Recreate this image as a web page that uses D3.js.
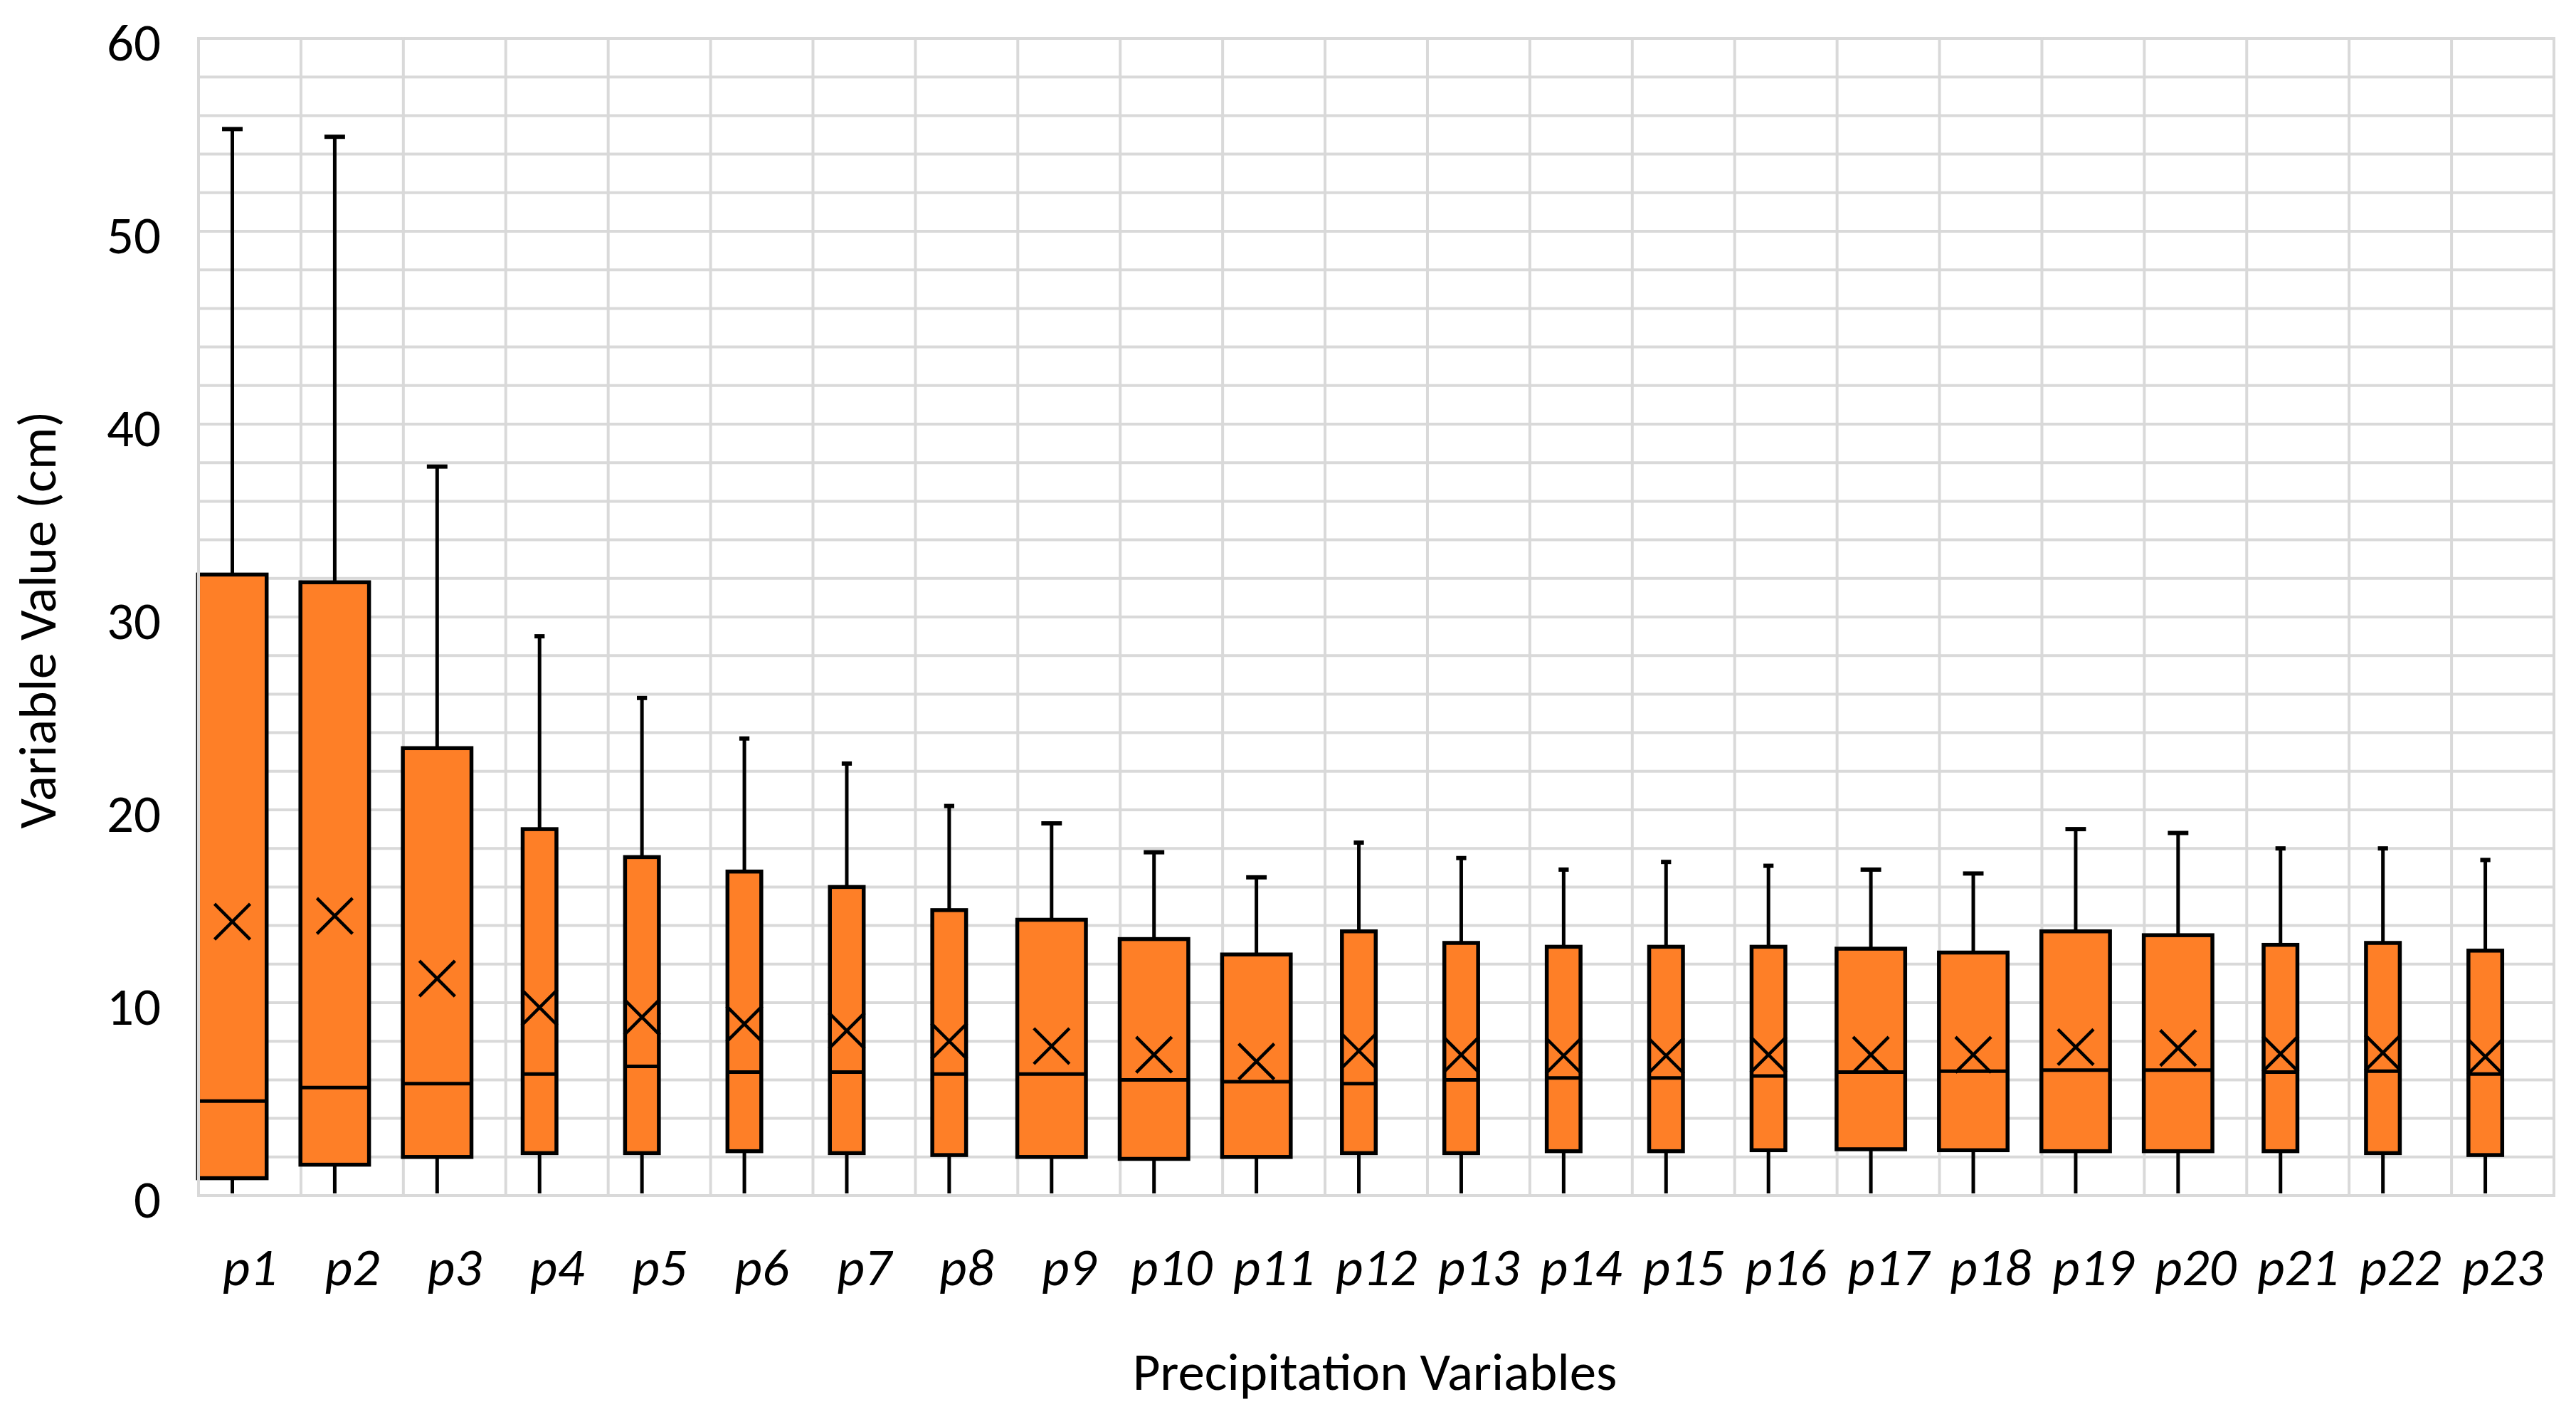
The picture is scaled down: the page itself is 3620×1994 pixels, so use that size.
<!DOCTYPE html>
<html>
<head>
<meta charset="utf-8">
<script src="https://cdn.jsdelivr.net/npm/d3@7"></script>
<style>
  body { margin: 0; background: #fff; }
  text { font-family: Calibri, Carlito, Lato, sans-serif; fill: #000; }
</style>
</head>
<body>
<svg id="chart" width="3620" height="1994"></svg>
<script>
// values (cm)
const categories = ["p1","p2","p3","p4","p5","p6","p7","p8","p9","p10","p11","p12",
  "p13","p14","p15","p16","p17","p18","p19","p20","p21","p22","p23"];
const whiskerMax = [55.3, 54.9, 37.8, 29.0, 25.8, 23.7, 22.4, 20.2, 19.3, 17.8, 16.5, 18.3,
  17.5, 16.9, 17.3, 17.1, 16.9, 16.7, 19.0, 18.8, 18.0, 18.0, 17.4];
const q3 = [32.2, 31.8, 23.2, 19.0, 17.55, 16.8, 16.0, 14.8, 14.3, 13.3, 12.5, 13.7,
  13.1, 12.9, 12.9, 12.9, 12.8, 12.6, 13.7, 13.5, 13.0, 13.1, 12.7];
const median = [4.9, 5.6, 5.8, 6.3, 6.7, 6.4, 6.4, 6.3, 6.3, 6.0, 5.9, 5.8,
  6.0, 6.1, 6.1, 6.2, 6.4, 6.45, 6.5, 6.5, 6.4, 6.45, 6.3];
const q1 = [0.9, 1.6, 2.0, 2.2, 2.2, 2.3, 2.2, 2.1, 2.0, 1.9, 2.0, 2.2,
  2.2, 2.3, 2.3, 2.35, 2.4, 2.35, 2.3, 2.3, 2.3, 2.2, 2.1];
const whiskerMin = [0, 0, 0, 0, 0, 0, 0, 0, 0, 0, 0, 0,
  0, 0, 0, 0, 0, 0, 0, 0, 0, 0, 0];
const mean = [14.2, 14.5, 11.25, 9.75, 9.25, 8.9, 8.55, 8.0, 7.75, 7.3, 6.95, 7.5,
  7.3, 7.25, 7.25, 7.3, 7.3, 7.3, 7.7, 7.65, 7.35, 7.4, 7.2];
const yTicks = [0, 10, 20, 30, 40, 50, 60];

// the boxes in the picture come in two widths
const wideBoxes = new Set(["p1","p2","p3","p9","p10","p11","p17","p18","p19","p20"]);

const rows = categories.map((c, i) => ({
  name: c, max: whiskerMax[i], q3: q3[i], med: median[i], q1: q1[i], min: whiskerMin[i], mean: mean[i]
}));

const svg = d3.select("#chart");
svg.append("rect").attr("width", 3620).attr("height", 1994).attr("fill", "#fff");

const x = d3.scaleBand().domain(categories).range([279, 3589]).padding(0);
const y = d3.scaleLinear().domain([0, 60]).range([1680, 54]);
const bw = x.bandwidth();
const gridColor = "#d9d9d9";

// grid
const grid = svg.append("g");
grid.selectAll(".hgrid")
  .data(d3.range(0, 61, 2))
  .join("line")
  .attr("x1", x.range()[0]).attr("x2", x.range()[1])
  .attr("y1", d => y(d)).attr("y2", d => y(d))
  .attr("stroke", gridColor).attr("stroke-width", 4);
grid.selectAll(".vgrid")
  .data(categories.slice(1).map(c => x(c)).concat([x.range()[1]]))
  .join("line")
  .attr("x1", d => d).attr("x2", d => d)
  .attr("y1", y(60) - 2).attr("y2", y(0) + 2)
  .attr("stroke", gridColor).attr("stroke-width", 4);

// boxes
const cx = d => x(d.name) + bw * 0.33;
const boxW = d => (wideBoxes.has(d.name) ? 0.67 : 0.33) * bw;

const box = svg.append("g").selectAll("g")
  .data(rows)
  .join("g");

// upper whisker + cap
box.append("line")
  .attr("x1", cx).attr("x2", cx)
  .attr("y1", d => y(d.q3)).attr("y2", d => y(d.max))
  .attr("stroke", "#000").attr("stroke-width", 5);
box.append("line")
  .attr("x1", d => cx(d) - boxW(d) * 0.15).attr("x2", d => cx(d) + boxW(d) * 0.15)
  .attr("y1", d => y(d.max)).attr("y2", d => y(d.max))
  .attr("stroke", "#000").attr("stroke-width", 6);
// lower whisker
box.append("line")
  .attr("x1", cx).attr("x2", cx)
  .attr("y1", d => y(d.q1)).attr("y2", d => y(d.min) - 3)
  .attr("stroke", "#000").attr("stroke-width", 5);

box.append("rect")
  .attr("x", d => cx(d) - boxW(d) / 2)
  .attr("width", boxW)
  .attr("y", d => y(d.q3))
  .attr("height", d => y(d.q1) - y(d.q3))
  .attr("fill", "#fe7f27")
  .attr("stroke", "#000").attr("stroke-width", 5.5);

box.append("line")
  .attr("x1", d => cx(d) - boxW(d) / 2).attr("x2", d => cx(d) + boxW(d) / 2)
  .attr("y1", d => y(d.med)).attr("y2", d => y(d.med))
  .attr("stroke", "#000").attr("stroke-width", 5);

// mean marker (x)
const ms = 25;
box.append("path")
  .attr("d", d => {
    const px = cx(d), py = y(d.mean);
    return `M${px - ms},${py - ms}L${px + ms},${py + ms}M${px - ms},${py + ms}L${px + ms},${py - ms}`;
  })
  .attr("stroke", "#000").attr("stroke-width", 4.5).attr("fill", "none");

// left frame line sits over the first box
svg.append("line")
  .attr("x1", x.range()[0]).attr("x2", x.range()[0])
  .attr("y1", y(60) - 2).attr("y2", y(0) + 2)
  .attr("stroke", gridColor).attr("stroke-width", 4);

// axes
const fs = 75;
const yAxis = svg.append("g")
  .attr("transform", `translate(${x.range()[0]},0)`)
  .call(d3.axisLeft(y).tickValues(yTicks).tickSize(0).tickPadding(53));
yAxis.select(".domain").remove();
yAxis.selectAll("text")
  .attr("font-size", fs).attr("dy", null)
  .attr("y", 30);

const xAxis = svg.append("g")
  .attr("transform", `translate(0,${y(0)})`)
  .call(d3.axisBottom(x).tickSize(0));
xAxis.select(".domain").remove();
xAxis.selectAll("text")
  .attr("font-size", fs).attr("font-style", "italic")
  .attr("dy", null).attr("y", 126);

svg.append("text")
  .attr("x", (x.range()[0] + x.range()[1]) / 2 - 2)
  .attr("y", 1953)
  .attr("text-anchor", "middle")
  .attr("font-size", fs)
  .text("Precipitation Variables");

svg.append("text")
  .attr("transform", `translate(78,${(y(0) + y(60)) / 2 + 4}) rotate(-90)`)
  .attr("text-anchor", "middle")
  .attr("font-size", fs)
  .text("Variable Value (cm)");
</script>
</body>
</html>
